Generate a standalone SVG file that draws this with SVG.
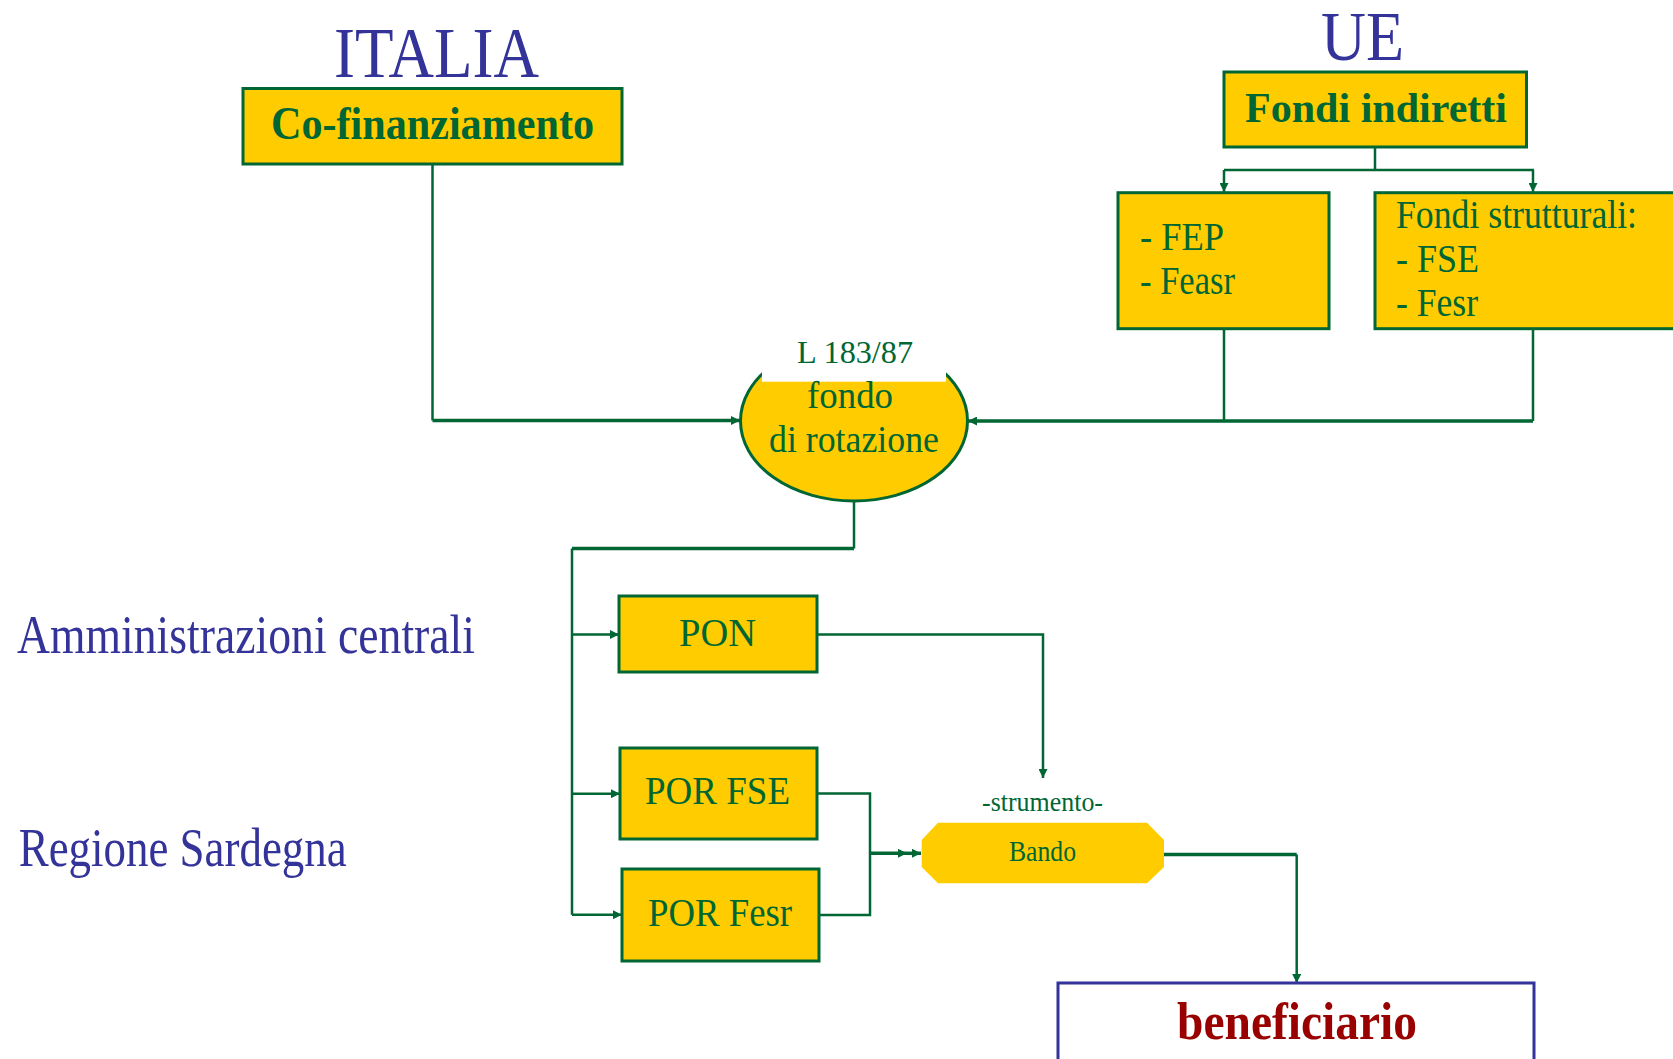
<svg xmlns="http://www.w3.org/2000/svg" width="1673" height="1059" viewBox="0 0 1673 1059">
  <style>
    .box { fill: #FFCC00; stroke: #006633; stroke-width: 3; }
    .conn { fill: none; stroke: #006633; stroke-width: 2.5; }
    .thick { stroke-width: 3.5; }
    .title { font-family: "Liberation Serif", serif; fill: #333399; }
    .lbl { font-family: "Liberation Serif", serif; fill: #006633; }
    .bold { font-weight: bold; }
  </style>
  <defs>
    <marker id="arr" viewBox="0 0 10 10" refX="10" refY="5" markerWidth="11" markerHeight="9" markerUnits="userSpaceOnUse" orient="auto">
      <path d="M0,0 L10,5 L0,10 z" fill="#006633"/>
    </marker>
  </defs>
  <rect width="1673" height="1059" fill="#ffffff"/>

  <g id="connectors">
    <path class="conn" d="M432.5,164 V420.5"/>
    <path class="conn thick" d="M432.5,420.5 H740" marker-end="url(#arr)"/>
    <path class="conn" d="M1375,147 V170 M1224,170 H1534"/>
    <path class="conn" d="M1224,170 V192" marker-end="url(#arr)"/>
    <path class="conn" d="M1533,170 V192" marker-end="url(#arr)"/>
    <path class="conn" d="M1224,328.6 V421 M1533,328.6 V421"/>
    <path class="conn thick" d="M1533,421 H968" marker-end="url(#arr)"/>
    <path class="conn" d="M854,501 V548.5"/>
    <path class="conn thick" d="M854,548.5 H572"/>
    <path class="conn" d="M572,548.5 V914.7"/>
    <path class="conn" d="M572,634.5 H619" marker-end="url(#arr)"/>
    <path class="conn" d="M572,793.7 H620" marker-end="url(#arr)"/>
    <path class="conn" d="M572,914.7 H622" marker-end="url(#arr)"/>
    <path class="conn" d="M817,634.5 H1043 V778" marker-end="url(#arr)"/>
    <path class="conn" d="M817,793.5 H870 V915 H819"/>
    <path class="conn thick" d="M870,853.3 H907" marker-end="url(#arr)"/>
    <path class="conn thick" d="M907,853.3 H921" marker-end="url(#arr)"/>
    <path class="conn thick" d="M1164,854.5 H1296.7"/>
    <path class="conn" d="M1296.7,854.5 V983" marker-end="url(#arr)"/>
  </g>

  <g id="title-italia">
    <text class="title" x="334" y="77" font-size="71" textLength="205" lengthAdjust="spacingAndGlyphs">ITALIA</text>
  </g>
  <g id="title-ue">
    <text class="title" x="1321" y="60" font-size="70" textLength="83" lengthAdjust="spacingAndGlyphs">UE</text>
  </g>

  <g id="cofinanziamento">
    <rect class="box" x="243" y="88.5" width="379" height="75.5"/>
    <text class="lbl bold" x="271" y="139" font-size="46" textLength="323" lengthAdjust="spacingAndGlyphs">Co-finanziamento</text>
  </g>

  <g id="fondi-indiretti">
    <rect class="box" x="1224" y="72" width="302.5" height="75"/>
    <text class="lbl bold" x="1245" y="122" font-size="43" textLength="262" lengthAdjust="spacingAndGlyphs">Fondi indiretti</text>
  </g>

  <g id="fep">
    <rect class="box" x="1118" y="192.7" width="211" height="136"/>
    <text class="lbl" x="1140" y="249.5" font-size="40" textLength="84" lengthAdjust="spacingAndGlyphs">- FEP</text>
    <text class="lbl" x="1140" y="294" font-size="40" textLength="95" lengthAdjust="spacingAndGlyphs">- Feasr</text>
  </g>

  <g id="fondi-strutturali">
    <rect class="box" x="1375" y="192.7" width="320" height="136"/>
    <text class="lbl" x="1396" y="228" font-size="40" textLength="241" lengthAdjust="spacingAndGlyphs">Fondi strutturali:</text>
    <text class="lbl" x="1396" y="272" font-size="40" textLength="83" lengthAdjust="spacingAndGlyphs">- FSE</text>
    <text class="lbl" x="1396" y="316" font-size="40" textLength="82" lengthAdjust="spacingAndGlyphs">- Fesr</text>
  </g>

  <g id="fondo-rotazione">
    <ellipse cx="854" cy="421" rx="113.5" ry="80" fill="#FFCC00" stroke="#006633" stroke-width="3"/>
    <rect x="762" y="328" width="184" height="53.7" fill="#ffffff"/>
    <text class="lbl" x="797" y="362.7" font-size="32" textLength="116" lengthAdjust="spacingAndGlyphs">L 183/87</text>
    <text class="lbl" x="807" y="408" font-size="37" textLength="86" lengthAdjust="spacingAndGlyphs">fondo</text>
    <text class="lbl" x="769" y="451.7" font-size="37" textLength="170" lengthAdjust="spacingAndGlyphs">di rotazione</text>
  </g>

  <g id="label-amministrazioni">
    <text class="title" x="17" y="653" font-size="54" textLength="458" lengthAdjust="spacingAndGlyphs">Amministrazioni centrali</text>
  </g>
  <g id="label-regione">
    <text class="title" x="18.7" y="865.7" font-size="54" textLength="328" lengthAdjust="spacingAndGlyphs">Regione Sardegna</text>
  </g>

  <g id="pon">
    <rect class="box" x="619" y="596" width="198" height="76"/>
    <text class="lbl" x="679" y="645.7" font-size="39" textLength="77" lengthAdjust="spacingAndGlyphs">PON</text>
  </g>
  <g id="por-fse">
    <rect class="box" x="620" y="748" width="197" height="91"/>
    <text class="lbl" x="645" y="803.8" font-size="39" textLength="145" lengthAdjust="spacingAndGlyphs">POR FSE</text>
  </g>
  <g id="por-fesr">
    <rect class="box" x="622" y="869" width="197" height="92"/>
    <text class="lbl" x="648" y="925.5" font-size="39" textLength="144" lengthAdjust="spacingAndGlyphs">POR Fesr</text>
  </g>

  <g id="bando">
    <text class="lbl" x="982" y="810.7" font-size="28" textLength="121" lengthAdjust="spacingAndGlyphs">-strumento-</text>
    <polygon points="938,822.7 1147,822.7 1164,840 1164,867 1147,883.3 938,883.3 921.7,867 921.7,840" fill="#FFCC00"/>
    <text class="lbl" x="1009" y="861" font-size="29" textLength="67" lengthAdjust="spacingAndGlyphs">Bando</text>
  </g>

  <g id="beneficiario">
    <rect x="1058" y="983" width="476" height="110" fill="#ffffff" stroke="#333399" stroke-width="3"/>
    <text x="1177" y="1039" font-family="Liberation Serif, serif" font-weight="bold" font-size="52" fill="#990000" textLength="240" lengthAdjust="spacingAndGlyphs">beneficiario</text>
  </g>
</svg>
